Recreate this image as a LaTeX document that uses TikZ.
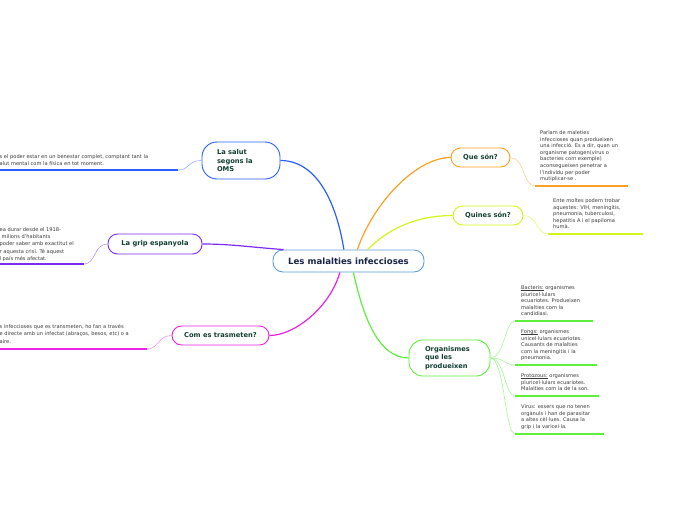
\documentclass[tikz,border=0pt]{standalone}
\usepackage{fontspec}
\setmainfont{DejaVu Sans}
\usetikzlibrary{calc}
\definecolor{cblue}{HTML}{2A5FFF}
\definecolor{cpurple}{HTML}{7B2CF5}
\definecolor{cmag}{HTML}{EE22E6}
\definecolor{corange}{HTML}{FFA024}
\definecolor{cyellow}{HTML}{D4F51C}
\definecolor{cgreen}{HTML}{5EF03A}
\definecolor{ccentral}{HTML}{5E9FD8}
\definecolor{ctitle}{HTML}{123F32}
\definecolor{cnavy}{HTML}{1A2448}
\definecolor{cleaf}{HTML}{3A3A3A}
\newcommand\myleaf{\fontsize{5.1}{6.6}\selectfont}
\newcommand\myleafL{\fontsize{5.1}{7.2}\selectfont}
\newcommand\myul[1]{\setbox0\hbox{#1}\rlap{\rule[-0.8pt]{\wd0}{0.35pt}}\box0\relax}
\tikzset{
  central/.style={draw=ccentral, line width=0.9pt, rounded corners=10pt, fill=white,
    minimum width=151pt, minimum height=22pt, inner sep=0pt, text=cnavy,
    font=\bfseries\fontsize{8.6}{10}\selectfont},
  topic/.style={line width=0.9pt, rounded corners=9.5pt, fill=white, inner sep=0pt,
    text=ctitle, font=\bfseries\fontsize{6.7}{8.6}\selectfont},
  leaftext/.style={inner sep=0pt, anchor=north west, align=left, text=cleaf},
  branch/.style={line width=1.2pt},
  twig/.style={line width=0.6pt},
  uline/.style={line width=2pt}
}
\begin{document}
\begin{tikzpicture}[x=1pt,y=-1pt]
\clip (0,0) rectangle (696,520);
\fill[white] (0,0) rectangle (696,520);

% central
\node[central] (c) at (348.5,261) {Les malalties infeccioses};

% topics
\node[topic, draw=cblue, minimum width=78pt, minimum height=37pt, rounded corners=15pt,
  text width=48pt, align=left] (salut) at (241,160.5) {La salut\\segons la\\OMS};
\node[topic, draw=cpurple, minimum width=94pt, minimum height=20pt] (grip) at (155,244) {La grip espanyola};
\node[topic, draw=cmag, minimum width=97pt, minimum height=19pt] (com) at (220.5,335.5) {Com es trasmeten?};
\node[topic, draw=corange, minimum width=59pt, minimum height=19pt] (que) at (480.5,157.5) {Que són?};
\node[topic, draw=cyellow, minimum width=70pt, minimum height=19pt] (quines) at (488,215.5) {Quines són?};
\node[topic, draw=cgreen, minimum width=81pt, minimum height=36pt, rounded corners=14pt,
  text width=49pt, align=left] (org) at (449.5,358) {Organismes\\que les\\produeixen};

% branches from centre
\draw[branch, cblue] (c.112) .. controls +(-8,-50) and +(35,0) .. (salut.east);
\draw[branch, cpurple] (c.170.7) .. controls +(-30,-2) and +(30,0) .. (grip.east);
\draw[branch, cmag] (c.-127.7) .. controls +(-10,35) and +(25,0) .. (com.east);
\draw[branch, corange] (c.52) .. controls +(15,-45) and +(-35,0) .. (que.west);
\draw[branch, cyellow] (c.31) .. controls +(25,-25) and +(-30,0) .. (quines.west);
\draw[branch, cgreen] (c.-67.8) .. controls +(10,45) and +(-30,0) .. (org.west);

% ---- left leaves ----
\coordinate (s1) at (178,170); \coordinate (s0) at (0,170);
\draw[twig, cblue!50] (salut.west) .. controls +(-14,0) and +(12,0) .. (s1);
\draw[uline, cblue] (s1) -- (s0);
\node[leaftext, font=\myleafL] (salutleaf) at (-0.5,154) {s el poder estar en un benestar complet, comptant tant la\\alut mental com la física en tot moment.};

\coordinate (g1) at (84,264); \coordinate (g0) at (0,264);
\draw[twig, cpurple!50] (grip.west) .. controls +(-14,0) and +(12,0) .. (g1);
\draw[uline, cpurple] (g1) -- (g0);
\node[leaftext, font=\myleafL] (gripleaf) at (-0.5,227.5) {ea durar desde el 1918-\\\hspace*{2pt}milions d'habitants\\poder saber amb exactitut el\\r aquesta crisi. Té aquest\\l país més afectat.};

\coordinate (m1) at (147,349); \coordinate (m0) at (0,349);
\draw[twig, cmag!50] (com.west) .. controls +(-14,0) and +(12,0) .. (m1);
\draw[uline, cmag] (m1) -- (m0);
\node[leaftext, font=\myleafL] (comleaf) at (-0.5,324.5) {s infeccioses que es transmeten, ho fan a través\\e directe amb un infectat (abraços, besos, etc) o a\\aire.};

% ---- right leaves ----
\coordinate (q0) at (535,186); \coordinate (q1) at (628,186);
\draw[twig, corange!50] (que.east) .. controls +(14,0) and +(-12,0) .. (q0);
\draw[uline, corange] (q0) -- (q1);
\node[leaftext, font=\myleaf] (queleaf) at (540,130.5) {Parlam de maleties\\infeccioses quan produeixen\\una infecció. Es a dir, quan un\\organisme patogen(virus o\\bacteries com exemple)\\aconsegueixen penetrar a\\l'individu per poder\\mutiplicar-se .};

\coordinate (y0) at (548,234); \coordinate (y1) at (643,234);
\draw[twig, cyellow!60] (quines.east) .. controls +(14,0) and +(-12,0) .. (y0);
\draw[uline, cyellow] (y0) -- (y1);
\node[leaftext, font=\myleaf] (quinesleaf) at (553,198.5) {Ente moltes podem trobar\\aquestes: VIH, meningitis,\\pneumonia, tuberculosi,\\hepatitis A i el papiloma\\humà.};

\coordinate (b0) at (515,321); \coordinate (b1) at (593,321);
\coordinate (f0) at (515,365); \coordinate (f1) at (597,365);
\coordinate (p0) at (515,396); \coordinate (p1) at (599,396);
\coordinate (v0) at (515,434); \coordinate (v1) at (604,434);
\foreach \a/\b in {b0/b1,f0/f1,p0/p1,v0/v1}{
  \draw[twig, cgreen!55] (org.east) .. controls +(14,0) and +(-10,0) .. (\a);
  \draw[uline, cgreen] (\a) -- (\b);
}
\node[leaftext, font=\myleaf] (bleaf) at (521,285.5) {\myul{Bacteris:} organismes\\pluricel·lulars\\ecuariotes. Produeixen\\malalties com la\\candidiasi.};
\node[leaftext, font=\myleaf] (fleaf) at (521,329.5) {\myul{Fongs:} organismes\\unicel·lulars ecuariotes.\\Causants de malalties\\com la meningitis i la\\pneumonia.};
\node[leaftext, font=\myleaf] (pleaf) at (521,373.5) {\myul{Protozous:} organismes\\pluricel·lulars ecuariotes.\\Malalties com la de la son.};
\node[leaftext, font=\myleaf] (vleaf) at (521,404.5) {Virus: essers que no tenen\\orgànuls i han de parasitar\\a altes cèl·lues. Causa la\\grip i la varicel·la.};
\end{tikzpicture}
\end{document}
